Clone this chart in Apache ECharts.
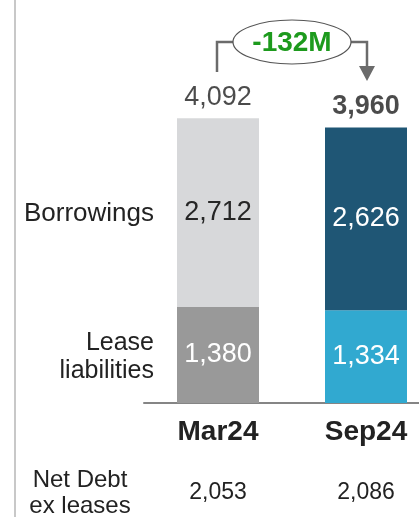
<!DOCTYPE html>
<html>
<head>
<meta charset="utf-8">
<script src="https://cdn.jsdelivr.net/npm/echarts@6/dist/echarts.min.js"></script>
<style>
html,body{margin:0;padding:0;background:#fff;}
#c{width:419px;height:517px;}
</style>
</head>
<body>
<div id="c"></div>
<script>
var categories = ['Mar24', 'Sep24'];
var leaseLiabilities = [1380, 1334];
var borrowings = [2712, 2626];
var totals = [4092, 3960];
var netDebtExLeases = [2053, 2086];

var leaseColors = ['#999999', '#31a9d0'];
var borrowColors = ['#d7d8da', '#1f5675'];
var borrowLabelColors = ['#262626', '#ffffff'];

var FONT = '"Liberation Sans", Arial, sans-serif';
function fmt(v){ return Number(v).toLocaleString('en-US'); }

var chart = echarts.init(document.getElementById('c'), null, {renderer:'canvas'});

var option = {
  animation: false,
  backgroundColor: '#ffffff',
  textStyle: {fontFamily: FONT},
  grid: {left: 144, right: -21, top: 55, height: 348, containLabel: false, outerBoundsMode: 'none'},
  xAxis: [{
    type: 'category',
    data: categories,
    axisLine: {show: true, lineStyle: {color: '#858585', width: 2}},
    axisTick: {show: false},
    axisLabel: {fontFamily: FONT, fontSize: 28, fontWeight: 'bold', color: '#222', margin: 15}
  }, {
    type: 'category',
    position: 'bottom',
    offset: 78,
    data: netDebtExLeases.map(fmt),
    axisLine: {show: false},
    axisTick: {show: false},
    axisLabel: {fontFamily: FONT, fontSize: 23, color: '#222', margin: 0}
  }],
  yAxis: {type: 'value', min: 0, max: 5000, show: false},
  series: [{
    name: 'Lease liabilities',
    type: 'bar',
    stack: 'debt',
    barWidth: 82,
    data: leaseLiabilities.map(function(v, i){
      return {value: v, itemStyle: {color: leaseColors[i]}};
    }),
    label: {show: true, position: 'inside', color: '#fff', fontSize: 27, fontFamily: FONT,
      formatter: function(p){ return fmt(p.value); }}
  }, {
    name: 'Borrowings',
    type: 'bar',
    stack: 'debt',
    barWidth: 82,
    data: borrowings.map(function(v, i){
      return {value: v, itemStyle: {color: borrowColors[i]},
        label: {color: borrowLabelColors[i]}};
    }),
    label: {show: true, position: 'inside', fontSize: 27, fontFamily: FONT,
      formatter: function(p){ return fmt(p.value); }}
  }, {
    name: 'Total',
    type: 'scatter',
    symbolSize: 0,
    data: totals.map(function(v, i){
      return {value: v, label: {fontWeight: i === 1 ? 'bold' : 'normal'}};
    }),
    label: {show: true, position: 'top', distance: 7, color: '#1e1e1e', fontSize: 27, fontFamily: FONT,
      formatter: function(p){ return fmt(p.value); }}
  }]
};
chart.setOption(option);

var x0 = chart.convertToPixel({xAxisIndex: 0}, categories[0]);
var x1 = chart.convertToPixel({xAxisIndex: 0}, categories[1]);
var diff = totals[1] - totals[0];
var ex = 292, ey = 42, rx = 59, ry = 22;
var lineCol = '#6b6b6b';

chart.setOption({
  graphic: [
    {type: 'line', shape: {x1: 15, y1: 0, x2: 15, y2: 517}, style: {stroke: '#c8c8c8', lineWidth: 2}},
    {type: 'text', style: {text: 'Borrowings', x: 154, y: 214, align: 'right', verticalAlign: 'middle',
      font: '26px ' + FONT, fill: '#222'}},
    {type: 'text', style: {text: 'Lease\nliabilities', x: 154, y: 357, align: 'right', verticalAlign: 'middle',
      font: '25px ' + FONT, lineHeight: 28, fill: '#222'}},
    {type: 'text', style: {text: 'Net Debt\nex leases', x: 80, y: 493, align: 'center', verticalAlign: 'middle',
      font: '24px ' + FONT, lineHeight: 26, fill: '#222'}},
    {type: 'polyline', shape: {points: [[x0 - 1, 72], [x0 - 1, ey], [ex - rx, ey]]},
      style: {stroke: lineCol, lineWidth: 2.5, fill: null}},
    {type: 'polyline', shape: {points: [[ex + rx, ey], [x1 + 1, ey], [x1 + 1, 68]]},
      style: {stroke: lineCol, lineWidth: 2.5, fill: null}},
    {type: 'polygon', shape: {points: [[x1 - 7, 66], [x1 + 9, 66], [x1 + 1, 81]]},
      style: {fill: lineCol}},
    {type: 'ellipse', shape: {cx: ex, cy: ey, rx: rx, ry: ry},
      style: {fill: '#fff', stroke: '#555', lineWidth: 1.2}},
    {type: 'text', style: {text: (diff < 0 ? '-' : '+') + Math.abs(diff) + 'M', x: ex, y: ey + 1,
      align: 'center', verticalAlign: 'middle', font: 'bold 28px ' + FONT, fill: '#1d9a1d'}}
  ]
});
</script>
</body>
</html>
